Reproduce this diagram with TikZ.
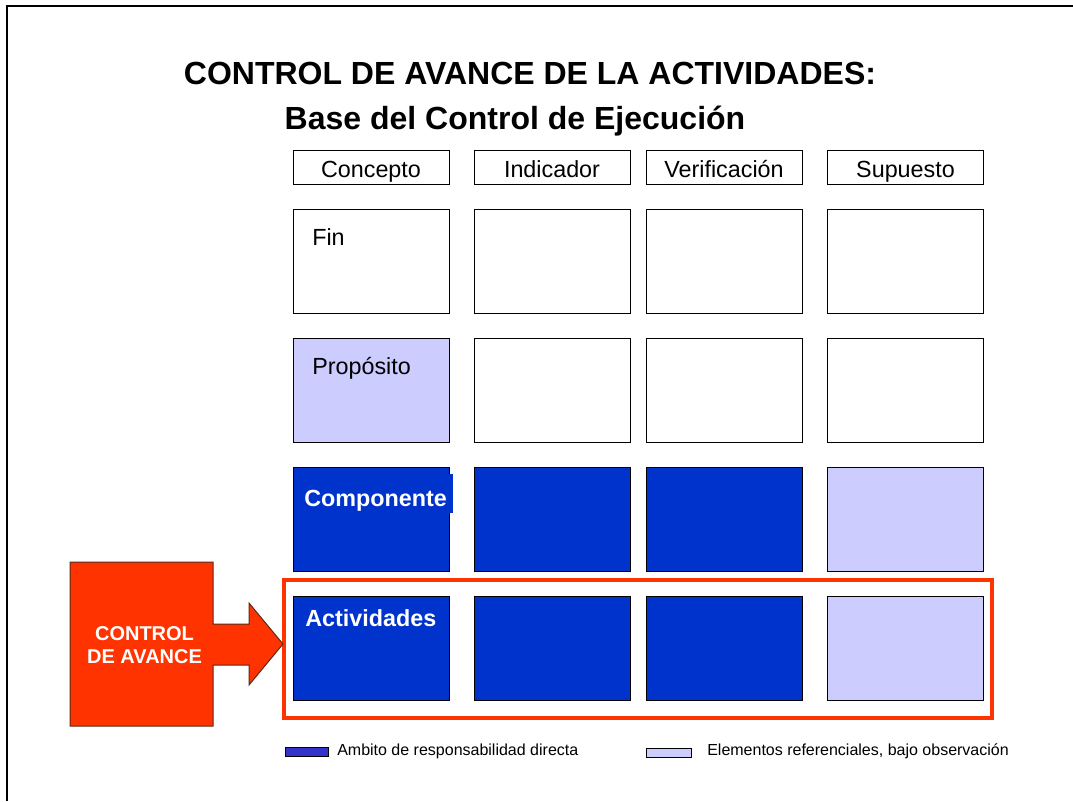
\documentclass[tikz,border=0pt]{standalone}
\usepackage{fontspec}
\setmainfont{Liberation Sans}
\definecolor{cblue}{HTML}{0033CC}
\definecolor{clight}{HTML}{CCCCFF}
\definecolor{cred}{HTML}{FF3300}
\definecolor{legblue}{HTML}{3333CC}
\definecolor{redline}{HTML}{5A2A1A}
\begin{document}
\begin{tikzpicture}[x=0.75pt,y=-0.75pt,
  cellbox/.style={draw=black, line width=0.75pt, minimum width=117pt, minimum height=78pt, inner sep=0pt, outer sep=0pt},
  headbox/.style={draw=black, line width=0.75pt, minimum width=117pt, minimum height=25.5pt, inner sep=0pt, outer sep=0pt, text height=17pt, text depth=2pt, font=\fontsize{17.5}{20}\selectfont},
  plain/.style={cellbox, fill=white},
  light/.style={cellbox, fill=clight},
  dark/.style={cellbox, fill=cblue},
  rowlabel/.style={anchor=base west, inner sep=0pt, font=\fontsize{17.5}{20}\selectfont},
  boldlabel/.style={anchor=base west, inner sep=0pt, text=white, font=\fontsize{17.5}{20}\selectfont\bfseries},
  titletext/.style={anchor=base, inner sep=0pt, font=\fontsize{24}{28}\selectfont\bfseries},
  legtext/.style={anchor=west, inner sep=0pt, font=\fontsize{12}{14}\selectfont}
]
\useasboundingbox (0,0) rectangle (1073,801);
% page frame
\draw[line width=1.5pt] (7,801) -- (7,6) -- (1073,6);

% titles
\node[titletext] (t1) at (530,84) {CONTROL DE AVANCE DE LA ACTIVIDADES:};
\node[titletext] (t2) at (515,129) {Base del Control de Ejecución};

% headers
\node[headbox] (h1) at (371,167) {Concepto};
\node[headbox] (h2) at (552,167) {Indicador};
\node[headbox] (h3) at (724,167) {Verificación};
\node[headbox] (h4) at (905.5,167) {Supuesto};

% row Fin
\node[plain] (f1) at (371,261) {};
\node[plain] (f2) at (552,261) {};
\node[plain] (f3) at (724,261) {};
\node[plain] (f4) at (905.5,261) {};
\node[rowlabel] (lf) at (312,245) {Fin};

% row Proposito
\node[light] (p1) at (371,390) {};
\node[plain] (p2) at (552,390) {};
\node[plain] (p3) at (724,390) {};
\node[plain] (p4) at (905.5,390) {};
\node[rowlabel] (lp) at (312,374) {Propósito};

% row Componente
\node[dark] (c1) at (371,519) {};
\node[dark] (c2) at (552,519) {};
\node[dark] (c3) at (724,519) {};
\node[light] (c4) at (905.5,519) {};
\fill[cblue] (294,474) rectangle (453,513);
\node[boldlabel] (lc) at (304,506) {Componente};

% row Actividades
\node[dark] (a1) at (371,648) {};
\node[dark] (a2) at (552,648) {};
\node[dark] (a3) at (724,648) {};
\node[light] (a4) at (905.5,648) {};
\node[boldlabel] (la) at (305,626) {Actividades};

% red frame
\draw[cred, line width=3pt] (284,580) rectangle (992,718);

% arrow block
\filldraw[fill=cred, draw=redline, line width=0.75pt]
  (70,562) -- (213,562) -- (213,624) -- (249,624) -- (249,603) -- (283,644)
  -- (249,685) -- (249,665) -- (213,665) -- (213,726) -- (70,726) -- cycle;
\node[align=center, text=white, inner sep=0pt, font=\fontsize{15}{17.25}\selectfont\bfseries] (ca) at (144.5,645) {CONTROL\\DE AVANCE};

% legend
\filldraw[fill=legblue, draw=black, line width=0.6pt] (285,747) rectangle (328,756);
\node[legtext] (l1) at (337,751) {Ambito de responsabilidad directa};
\filldraw[fill=clight, draw=black, line width=0.6pt] (646,748) rectangle (691,757);
\node[legtext] (l2) at (707,751) {Elementos referenciales, bajo observación};
\end{tikzpicture}
\end{document}
